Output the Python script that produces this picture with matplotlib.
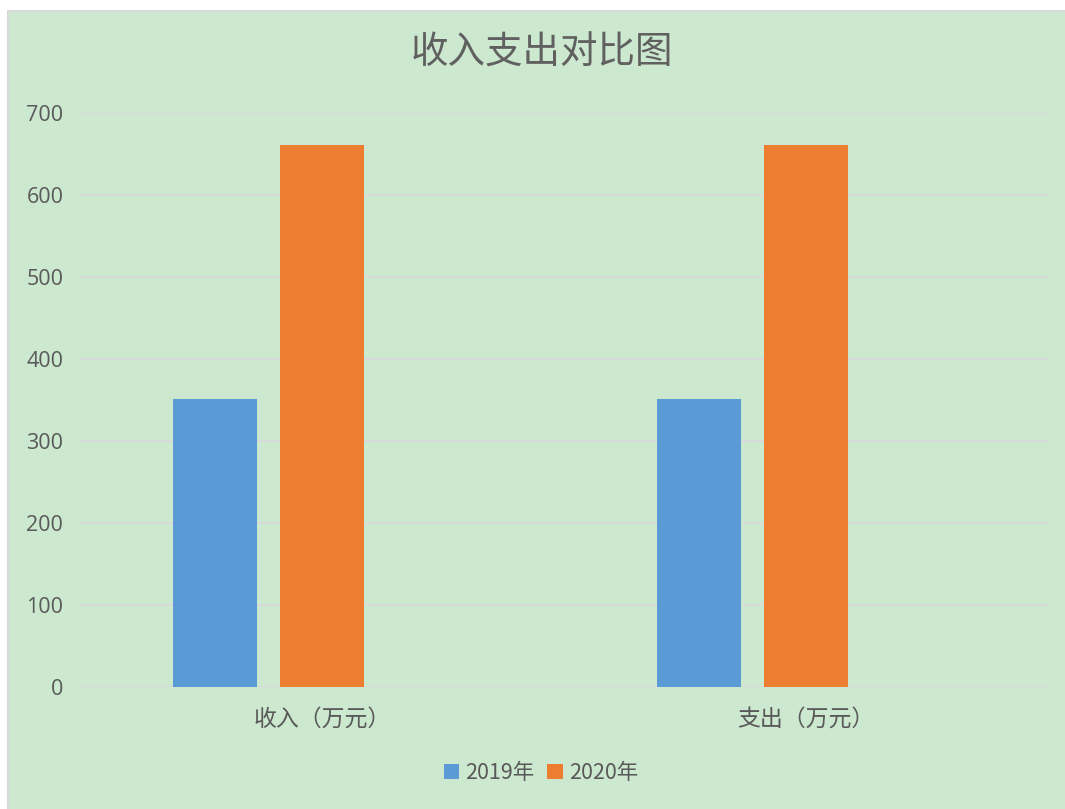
import matplotlib
matplotlib.use("Agg")
import matplotlib.pyplot as plt
import numpy as np
from matplotlib.patches import Rectangle

plt.rcParams['font.family'] = ['Noto Sans CJK SC', 'DejaVu Sans']

categories = ['收入（万元）', '支出（万元）']
series_names = ['2019年', '2020年']
values_2019 = [351, 351]
values_2020 = [661, 661]
colors = ['#5B9BD5', '#ED7D31']
yticks = [0, 100, 200, 300, 400, 500, 600, 700]
title = '收入支出对比图'

bg = '#CCE8CF'
fig = plt.figure(figsize=(10.65, 8.09), dpi=100)
fig.patch.set_facecolor('white')
# green chart area with grey border at top/left
fig.patches.append(Rectangle((8/1065, -0.05), 1.1, 1.05 - 11/809, transform=fig.transFigure,
                             facecolor=bg, edgecolor='#D9D9D9', linewidth=1.5, zorder=-5))

ax = fig.add_axes([80/1065, 1 - 687/809, 968/1065, (687 - 113)/809])
ax.set_zorder(5)
ax.patch.set_alpha(0)

x = np.arange(len(categories))
w = 0.1736
off = 0.221  # group has a third (empty) slot, so bars sit left of the category centre
ax.bar(x - off, values_2019, w, color=colors[0], label=series_names[0], zorder=3)
ax.bar(x, values_2020, w, color=colors[1], label=series_names[1], zorder=3)

ax.set_xlim(-0.5, 1.5)
ax.set_ylim(0, 700)
ax.set_yticks(yticks)
ax.set_yticklabels([str(t) for t in yticks], fontsize=15.5, color='#595959',
                   family=['Open Sans', 'DejaVu Sans'])
ax.set_xticks(x)
ax.set_xticklabels(categories, fontsize=16.5, color='#595959')
ax.tick_params(axis='y', length=0, pad=12)
ax.tick_params(axis='x', length=0, pad=15)
ax.grid(axis='y', color='#D9D9D9', linewidth=1.5, zorder=0)
for s in ax.spines.values():
    s.set_visible(False)

fig.text(542/1065, 1 - 53/809, title, ha='center', va='center', fontsize=27,
         color='#606060', fontweight='light')

leg = fig.legend(loc='center', bbox_to_anchor=(541/1065, 1 - 773/809), ncol=2, frameon=False,
                 fontsize=15.5, labelcolor='#595959', handlelength=0.7, handleheight=0.7,
                 handletextpad=0.3, columnspacing=0.6)

fig.savefig('out.png', dpi=100, facecolor=fig.get_facecolor())
